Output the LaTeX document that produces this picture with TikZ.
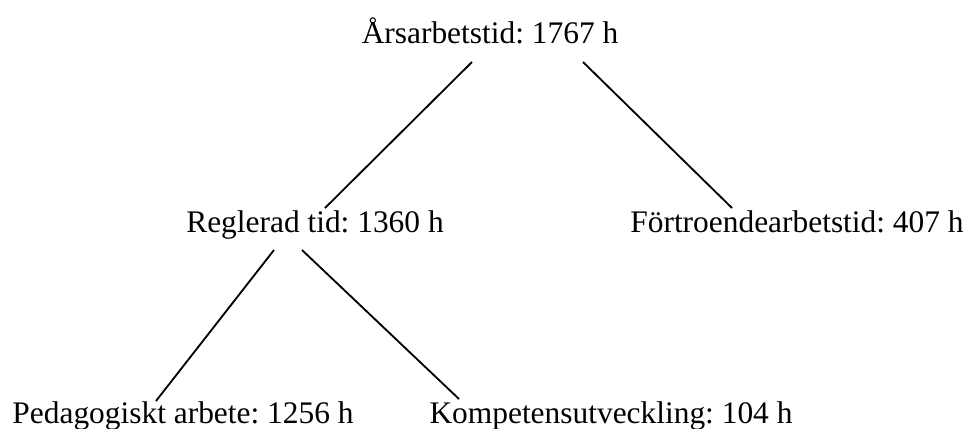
\documentclass[tikz,border=0pt]{standalone}
\usepackage{fontspec}
\setmainfont{Liberation Serif}
\usepackage{tikz}
\frenchspacing

\begin{document}
\begin{tikzpicture}[x=0.382pt, y=-0.382pt, line width=0.7pt,
                    time node/.style={anchor=base,inner sep=0pt,font=\fontsize{12}{14}\selectfont}]
  \useasboundingbox (0,0) rectangle (970,428);
  \node[time node] (root) at (490,43) {Årsarbetstid: 1767 h};
  \node[time node] (regl) at (315,232) {Reglerad tid: 1360 h};
  \node[time node] (fort) at (797,232) {Förtroendearbetstid: 407 h};
  \node[time node] (ped) at (183,423) {Pedagogiskt arbete: 1256 h};
  \node[time node] (komp) at (611,423) {Kompetensutveckling: 104 h};
  \path
    ([shift={(-18,19)}]root.base) edge ([shift={(10,-24)}]regl.base)
    ([shift={(93,19)}]root.base) edge ([shift={(-65,-24)}]fort.base)
    ([shift={(-41,18)}]regl.base) edge ([shift={(-27,-22)}]ped.base)
    ([shift={(-13,18)}]regl.base) edge ([shift={(-152,-24)}]komp.base);
\end{tikzpicture}
\end{document}
